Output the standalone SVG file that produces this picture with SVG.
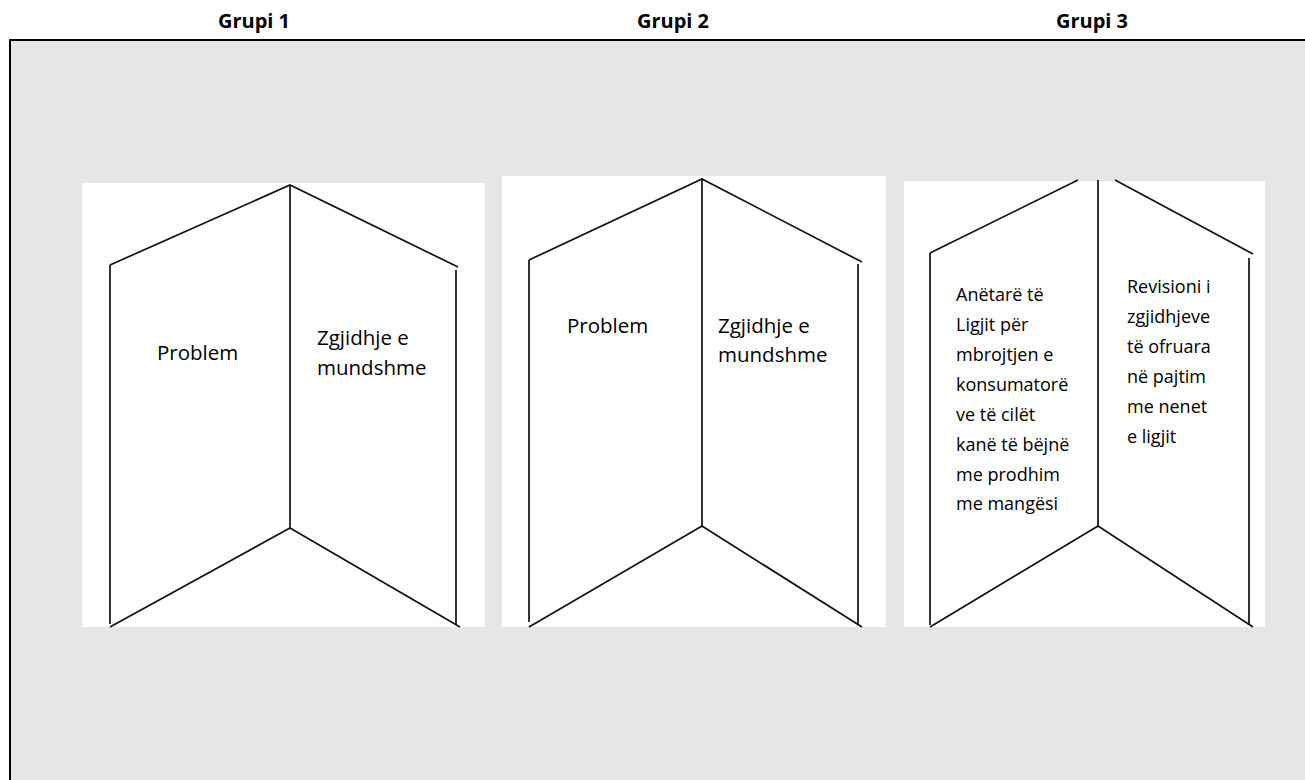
<svg xmlns="http://www.w3.org/2000/svg" width="1305" height="780" viewBox="0 0 1305 780">
<style>
.hdr{font-family:"Open Sans","Liberation Sans",sans-serif;font-weight:bold;font-size:20px;fill:#000;text-anchor:middle}
.lbl{font-family:"Open Sans","Liberation Sans",sans-serif;font-size:20.5px;fill:#000}
.sm{font-family:"Open Sans","Liberation Sans",sans-serif;font-size:18px;fill:#000}
.ln{stroke:#111;stroke-width:1.7;fill:none}
.panel{fill:#fff}
</style>
<rect x="0" y="0" width="1305" height="780" fill="#fff"/>
<g id="frame">
<rect x="10" y="40" width="1300" height="760" fill="#e6e6e6" stroke="#000" stroke-width="2"/>
</g>
<g id="headers">
<text class="hdr" x="254" y="28">Grupi 1</text>
<text class="hdr" x="673" y="28">Grupi 2</text>
<text class="hdr" x="1092" y="28">Grupi 3</text>
</g>
<g id="grupi1">
<rect class="panel" x="82" y="183" width="403" height="444"/>
<path class="ln" d="M110,265 L290,185 L458,267"/>
<path class="ln" d="M110,265 L110,624 M290,185 L290,528 M456,270 L456,624"/>
<path class="ln" d="M110,627 L290,528 L460,627"/>
<text class="lbl" x="157" y="360">Problem</text>
<text class="lbl" x="317" y="345">Zgjidhje e</text>
<text class="lbl" x="317" y="375">mundshme</text>
</g>
<g id="grupi2">
<rect class="panel" x="502" y="176" width="384" height="451"/>
<path class="ln" d="M529,260 L702,179 L862,262"/>
<path class="ln" d="M529,260 L529,622 M702,179 L702,526 M858,264 L858,625"/>
<path class="ln" d="M529,627 L702,526 L862,627"/>
<text class="lbl" x="567" y="333">Problem</text>
<text class="lbl" x="718" y="333">Zgjidhje e</text>
<text class="lbl" x="718" y="362">mundshme</text>
</g>
<g id="grupi3">
<rect class="panel" x="904" y="181" width="361" height="446"/>
<path class="ln" d="M930,253 L1078,180 M1115,180 L1253,254"/>
<path class="ln" d="M930,253 L930,625 M1098,180 L1098,526 M1249,258 L1249,625"/>
<path class="ln" d="M930,627 L1098,526 L1253,627"/>
<text class="sm" x="956" y="301">Anëtarë të</text>
<text class="sm" x="956" y="331">Ligjit për</text>
<text class="sm" x="956" y="361">mbrojtjen e</text>
<text class="sm" x="956" y="391">konsumatorë</text>
<text class="sm" x="956" y="421">ve të cilët</text>
<text class="sm" x="956" y="451">kanë të bëjnë</text>
<text class="sm" x="956" y="481">me prodhim</text>
<text class="sm" x="956" y="510">me mangësi</text>
<text class="sm" x="1127" y="293">Revisioni i</text>
<text class="sm" x="1127" y="323">zgjidhjeve</text>
<text class="sm" x="1127" y="353">të ofruara</text>
<text class="sm" x="1127" y="383">në pajtim</text>
<text class="sm" x="1127" y="413">me nenet</text>
<text class="sm" x="1127" y="443">e ligjit</text>
</g>
</svg>
